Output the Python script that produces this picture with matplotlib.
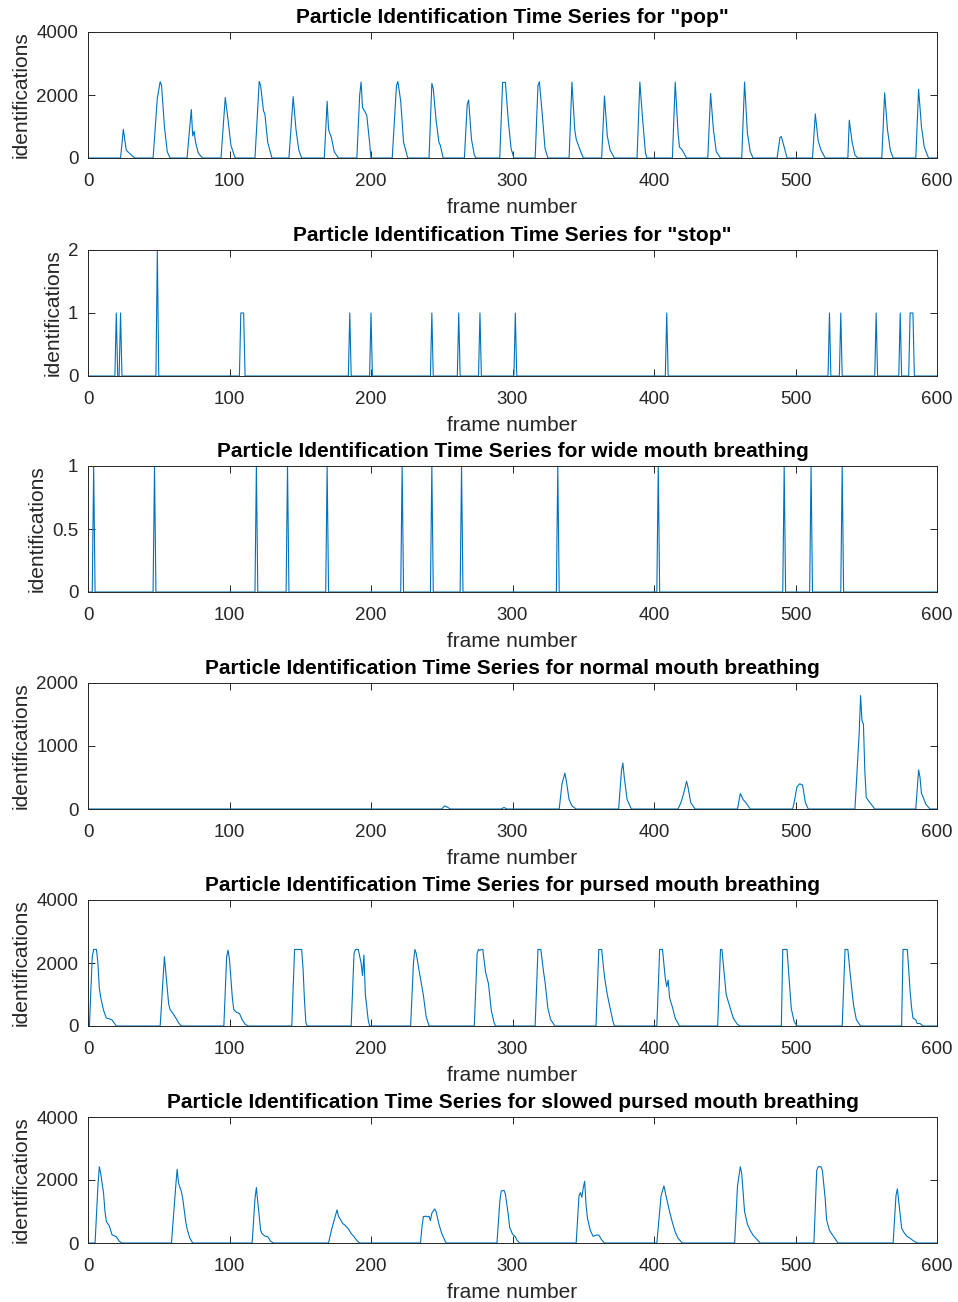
import matplotlib.pyplot as plt
import numpy as np

# --- data: knots (frame, identifications) ---
pop_frames = [0,
    23, 25, 27, 30, 33,
    46, 49, 51, 52, 54, 56, 58,
    70, 73, 74, 75, 76, 78, 81,
    94, 97, 99, 101, 104,
    118, 121, 122, 124, 125, 127, 130,
    142, 145, 147, 149, 151,
    167, 169, 170, 172, 174, 177,
    190, 192, 193, 194, 196, 197, 199, 200,
    215, 218, 219, 221, 223, 226,
    241, 243, 244, 246, 248, 249, 251,
    266, 268, 269, 271, 273, 274,
    291, 293, 295, 297, 299, 301,
    316, 318, 319, 321, 323, 325,
    340, 342, 344, 345, 347, 350,
    363, 365, 367, 369, 372,
    388, 390, 392, 394, 395,
    413, 415, 417, 418, 420, 423,
    438, 440, 442, 444, 447,
    462, 464, 466, 468, 470,
    487, 489, 490, 492, 494,
    512, 514, 516, 518, 521,
    537, 538, 540, 542, 544,
    561, 563, 565, 567, 569,
    585, 587, 589, 591, 594,
    600]
pop_counts = [0,
    0, 910, 250, 120, 0,
    0, 1900, 2420, 2300, 1000, 200, 0,
    0, 1540, 700, 850, 500, 150, 0,
    0, 1920, 1200, 400, 0,
    0, 2430, 2300, 1500, 1400, 500, 0,
    0, 1950, 900, 250, 0,
    0, 1800, 900, 650, 200, 0,
    0, 2000, 2410, 1600, 1450, 1350, 500, 0,
    0, 2300, 2430, 1800, 500, 0,
    0, 2370, 2200, 1200, 500, 400, 0,
    0, 1700, 1840, 600, 100, 0,
    0, 2400, 2400, 1200, 300, 0,
    0, 2300, 2420, 1400, 300, 0,
    0, 2410, 900, 600, 350, 0,
    0, 1970, 700, 250, 0,
    0, 2410, 1200, 150, 0,
    0, 2410, 800, 350, 250, 0,
    0, 2050, 900, 200, 0,
    0, 2410, 800, 200, 0,
    0, 650, 680, 350, 0,
    0, 1400, 550, 250, 0,
    0, 1200, 500, 100, 0,
    0, 2070, 900, 250, 0,
    0, 2180, 1000, 350, 0,
    0]

stop_frames = [20, 23, 49, 108, 109, 110, 185, 200, 243, 262, 277, 302,
               409, 524, 532, 557, 574, 581, 582, 583]
stop_counts = [1, 1, 2, 1, 1, 1, 1, 1, 1, 1, 1, 1,
               1, 1, 1, 1, 1, 1, 1, 1]

wide_frames = [4, 47, 119, 141, 169, 222, 243, 264, 332, 403, 492, 511, 533]
wide_counts = [1, 1, 1, 1, 1, 1, 1, 1, 1, 1, 1, 1, 1]

normal_frames = [0,
    250, 252, 254, 256,
    292, 294, 296,
    333, 335, 337, 338, 340, 342, 345,
    375, 377, 378, 379, 381, 384,
    417, 419, 421, 423, 424, 426, 429,
    459, 461, 463, 465, 468,
    498, 499, 501, 503, 505, 507, 509,
    542, 545, 546, 547, 548, 549, 550, 552, 556,
    585, 587, 588, 589, 590, 592, 595,
    600]
normal_counts = [0,
    0, 50, 30, 0,
    0, 25, 0,
    0, 400, 570, 450, 150, 50, 0,
    0, 600, 730, 500, 150, 0,
    0, 100, 250, 440, 350, 100, 0,
    0, 245, 150, 100, 0,
    0, 100, 350, 400, 380, 100, 0,
    0, 1200, 1800, 1400, 1350, 600, 180, 120, 0,
    0, 620, 500, 250, 200, 80, 0,
    0]

pursed_frames = [0,
    1, 3, 4, 6, 7, 8, 9, 11, 13, 15, 17, 20,
    51, 53, 54, 55, 57, 58, 60, 62, 64, 66,
    96, 98, 99, 100, 102, 103, 105, 107, 109, 111, 113,
    144, 146, 151, 152, 153, 154, 155,
    186, 188, 189, 191, 193, 194, 195, 196, 198, 199,
    228, 230, 231, 232, 234, 235, 237, 239, 241,
    273, 275, 276, 277, 278, 279, 281, 283, 285, 287, 288,
    316, 318, 320, 322, 323, 325, 327, 330,
    359, 361, 363, 365, 367, 369, 371, 372,
    402, 404, 406, 408, 409, 410, 411, 413, 415, 418,
    445, 447, 448, 450, 451, 453, 456, 459, 461,
    490, 491, 494, 496, 497, 499, 501,
    533, 535, 537, 539, 541, 543, 546,
    575, 576, 579, 580, 581, 582, 583, 585, 586, 588, 590,
    600]
pursed_counts = [0,
    0, 2200, 2430, 2430, 2000, 1200, 900, 500, 250, 230, 190, 0,
    0, 1500, 2200, 1700, 700, 520, 400, 260, 100, 0,
    0, 2200, 2410, 2100, 900, 520, 430, 400, 200, 60, 0,
    0, 2430, 2430, 1800, 800, 100, 0,
    0, 2300, 2430, 2430, 2000, 1600, 2250, 1000, 200, 0,
    0, 2000, 2430, 2300, 1750, 1500, 980, 300, 0,
    0, 2300, 2430, 2400, 2430, 2430, 1700, 1350, 500, 100, 0,
    0, 2430, 2430, 1700, 1400, 560, 200, 0,
    0, 2430, 2430, 1560, 1000, 560, 150, 0,
    0, 2430, 2430, 1500, 1250, 1460, 900, 600, 250, 0,
    0, 2430, 2430, 1500, 1000, 700, 250, 50, 0,
    0, 2430, 2430, 1200, 560, 150, 0,
    0, 2430, 2430, 1500, 670, 200, 0,
    0, 2430, 2430, 1800, 1100, 600, 250, 200, 80, 80, 0,
    0]

slowed_frames = [0,
    5, 7, 8, 9, 11, 12, 13, 15, 17, 19, 20, 22, 24,
    59, 62, 63, 64, 66, 67, 69, 70, 72, 74,
    116, 118, 119, 120, 122, 123, 125, 127, 129, 131,
    170, 172, 174, 176, 177, 179, 180, 182, 184, 186, 188, 190, 192,
    235, 236, 237, 239, 240, 241, 242, 243, 245, 246, 248, 250, 253,
    289, 291, 292, 294, 295, 297, 298, 300, 302, 303, 305,
    345, 347, 348, 349, 350, 351, 352, 353, 355, 357, 359, 361, 363, 365,
    402, 405, 407, 409, 411, 413, 415, 417, 420,
    457, 459, 461, 462, 464, 466, 468, 470, 473, 475,
    513, 515, 516, 518, 519, 521, 522, 524, 527, 530,
    569, 571, 572, 573, 575, 577, 579, 581, 583, 586,
    600]
slowed_counts = [0,
    0, 1800, 2420, 2200, 1580, 1000, 680, 550, 260, 220, 200, 60, 0,
    0, 1800, 2340, 1900, 1630, 1400, 700, 450, 150, 0,
    0, 1400, 1760, 1300, 400, 300, 220, 200, 60, 0,
    0, 400, 730, 1050, 850, 700, 620, 550, 450, 300, 200, 80, 0,
    0, 500, 840, 850, 830, 850, 710, 950, 1080, 1000, 600, 300, 0,
    0, 1300, 1650, 1670, 1550, 900, 500, 280, 200, 100, 0,
    0, 1500, 1600, 1450, 1750, 1960, 1200, 780, 400, 210, 250, 250, 100, 0,
    0, 1500, 1810, 1400, 1000, 650, 350, 150, 0,
    0, 1800, 2420, 2200, 1000, 600, 400, 250, 100, 0,
    0, 2300, 2420, 2420, 2300, 1400, 730, 400, 200, 0,
    0, 1500, 1720, 1300, 470, 310, 200, 150, 80, 0,
    0]

titles = ['Particle Identification Time Series for "pop"',
          'Particle Identification Time Series for "stop"',
          'Particle Identification Time Series for wide mouth breathing',
          'Particle Identification Time Series for normal mouth breathing',
          'Particle Identification Time Series for pursed mouth breathing',
          'Particle Identification Time Series for slowed pursed mouth breathing']
y_limits = [4000, 2, 1, 2000, 4000, 4000]
y_ticks = [[0, 2000, 4000], [0, 1, 2], [0, 0.5, 1], [0, 1000, 2000],
           [0, 2000, 4000], [0, 2000, 4000]]
x_ticks = [0, 100, 200, 300, 400, 500, 600]


def spike_series(frames, counts, n=601):
    # sparse event list -> full per-frame series (zeros elsewhere)
    y = np.zeros(n)
    y[np.array(frames)] = counts
    return np.arange(n), y


series = [
    (pop_frames, pop_counts),
    spike_series(stop_frames, stop_counts),
    spike_series(wide_frames, wide_counts),
    (normal_frames, normal_counts),
    (pursed_frames, pursed_counts),
    (slowed_frames, slowed_counts),
]

plt.rcParams['font.family'] = ['Liberation Sans', 'DejaVu Sans']
line_col = '#0072BD'
axis_col = '#262626'

fig = plt.figure(figsize=(9.58, 13.02), dpi=100)
W, H = 958, 1302
tops = [32, 250, 466, 683, 900, 1117]

for i, (x, y) in enumerate(series):
    top = tops[i]
    ax = fig.add_axes([88 / W, 1 - (top + 126) / H, 849 / W, 126 / H])
    ax.plot(x, y, color=line_col, linewidth=0.8)
    ax.set_xlim(0, 600)
    ax.set_ylim(0, y_limits[i])
    ax.set_xticks(x_ticks)
    ax.set_yticks(y_ticks[i])
    ax.set_yticklabels([f'{v:g}' for v in y_ticks[i]])
    ax.tick_params(direction='in', length=5, width=0.7, colors=axis_col,
                   labelsize=13.5, top=True, right=True, pad=7)
    ax.tick_params(axis='x', pad=10.5)
    for s in ax.spines.values():
        s.set_color(axis_col)
        s.set_linewidth(0.7)
    ax.set_title(titles[i], fontsize=15, fontweight='bold', pad=6.5, color='black')
    ax.set_xlabel('frame number', fontsize=15, color=axis_col, labelpad=6)
    ax.set_ylabel('identifications', fontsize=15, color=axis_col, labelpad=4)

fig.savefig('out.png', dpi=100)
